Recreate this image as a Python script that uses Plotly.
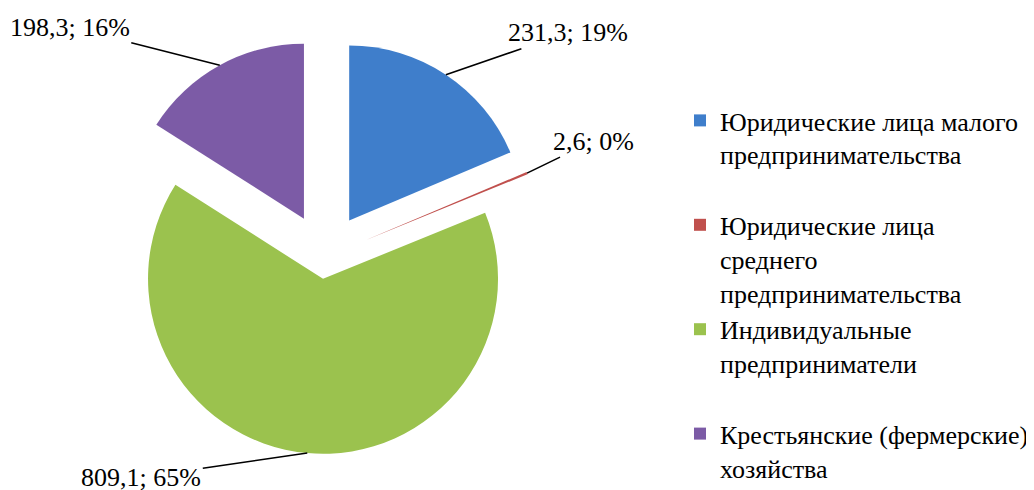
import math
import plotly.graph_objects as go

# ---- data ----
categories = [
    "Юридические лица малого<br>предпринимательства",
    "Юридические лица<br>среднего<br>предпринимательства",
    "Индивидуальные<br>предприниматели",
    "Крестьянские (фермерские)<br>хозяйства",
]
values = [231.3, 2.6, 809.1, 198.3]

# ---- style ----
colors = ["#3f7ecb", "#c0504d", "#9bc24e", "#7c5ba6"]
pulls = [0.25, 0.25, 0.125, 0.25]
legend_pad = [1, 0, 1, 0]          # blank lines so every legend slot is equal
label_offsets = [(122, -42), (66, -32), (-166, 24), (-150, -38)]  # text offset from leader tip (px)
FONT = "Liberation Serif, Times New Roman, serif"
# the page body adds an 8px offset, so the figure fills the visible rest of the window
W, H = 1026, 482

cx_px, cy_px, r_px = 317.0, 249.0, 175.0
maxpull = max(pulls)
half = r_px * (1 + maxpull)
dom_x = [(cx_px - half) / W, (cx_px + half) / W]
dom_y = [1 - (cy_px + half) / H, 1 - (cy_px - half) / H]

legend_labels = [c + "<br>\u00a0" * p for c, p in zip(categories, legend_pad)]

fig = go.Figure(go.Pie(
    labels=legend_labels,
    values=values,
    sort=False,
    direction="clockwise",
    rotation=0,
    pull=pulls,
    marker=dict(colors=colors, line=dict(width=0)),
    textinfo="none",
    hoverinfo="label+value+percent",
    domain=dict(x=dom_x, y=dom_y),
))

# data labels with leader lines, positioned from the slice geometry
total = sum(values)
cum = 0.0
annotations = []
for v, p, (ax, ay) in zip(values, pulls, label_offsets):
    mid = (cum + v / 2) / total * 2 * math.pi
    cum += v
    rr = r_px * (1 + p)
    tx = cx_px + rr * math.sin(mid)
    ty = cy_px - rr * math.cos(mid)
    txt = f"{v:.1f}".replace(".", ",") + f"; {round(100 * v / total)}%"
    annotations.append(dict(
        x=tx / W, y=1 - ty / H, xref="paper", yref="paper",
        text=txt, showarrow=True, arrowhead=0, arrowwidth=1.6, arrowcolor="#000000",
        ax=ax, ay=ay, standoff=0, startstandoff=0,
        font=dict(family=FONT, size=26, color="#000000"),
    ))

fig.update_layout(
    width=W, height=H,
    margin=dict(l=0, r=0, t=0, b=0, autoexpand=False),
    paper_bgcolor="white",
    plot_bgcolor="white",
    showlegend=True,
    legend=dict(
        x=1.0, xanchor="right", y=1 - 89 / H, yanchor="top",
        font=dict(family=FONT, size=26, color="#000000"),
        valign="top", bgcolor="rgba(0,0,0,0)", borderwidth=0,
    ),
    annotations=annotations,
)

fig.write_html("out.html")
